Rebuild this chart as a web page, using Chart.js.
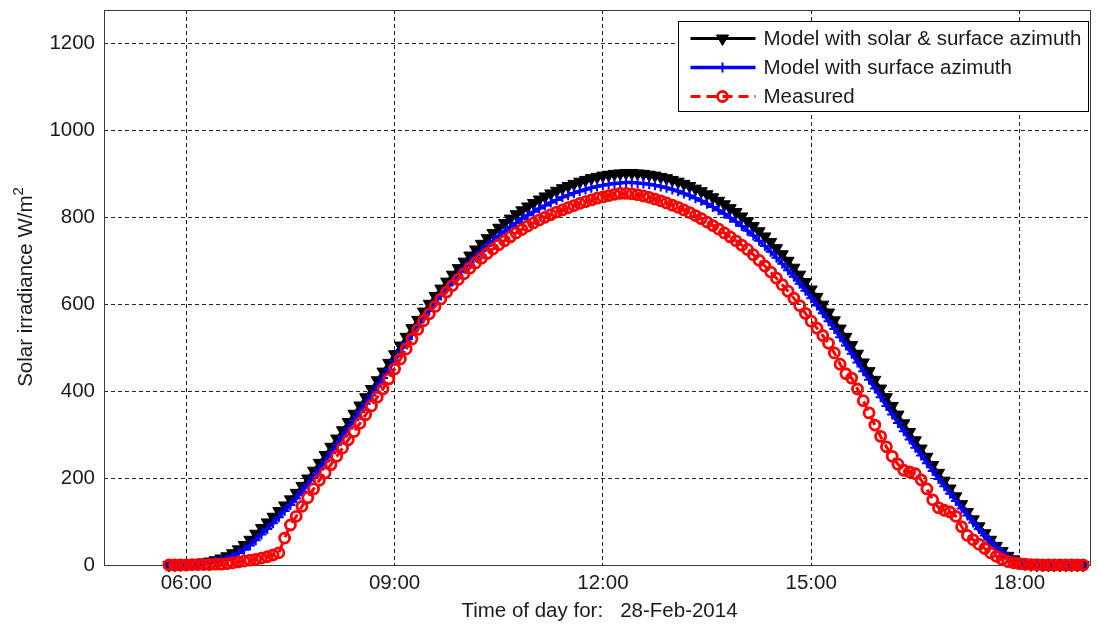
<!DOCTYPE html>
<html>
<head>
<meta charset="utf-8">
<title>Solar irradiance, 28-Feb-2014</title>
<script src="https://cdn.jsdelivr.net/npm/chart.js@4.4.1/dist/chart.umd.min.js"></script>
<style>
  html, body { margin: 0; padding: 0; background: #ffffff; }
  canvas { display: block; }
</style>
</head>
<body>
<canvas id="irradiance" width="1099" height="624"></canvas>
<script>
// Sample times (5-minute steps)
const times = [
  '05:45','05:50','05:55',
  '06:00','06:05','06:10','06:15','06:20','06:25','06:30','06:35','06:40','06:45','06:50','06:55',
  '07:00','07:05','07:10','07:15','07:20','07:25','07:30','07:35','07:40','07:45','07:50','07:55',
  '08:00','08:05','08:10','08:15','08:20','08:25','08:30','08:35','08:40','08:45','08:50','08:55',
  '09:00','09:05','09:10','09:15','09:20','09:25','09:30','09:35','09:40','09:45','09:50','09:55',
  '10:00','10:05','10:10','10:15','10:20','10:25','10:30','10:35','10:40','10:45','10:50','10:55',
  '11:00','11:05','11:10','11:15','11:20','11:25','11:30','11:35','11:40','11:45','11:50','11:55',
  '12:00','12:05','12:10','12:15','12:20','12:25','12:30','12:35','12:40','12:45','12:50','12:55',
  '13:00','13:05','13:10','13:15','13:20','13:25','13:30','13:35','13:40','13:45','13:50','13:55',
  '14:00','14:05','14:10','14:15','14:20','14:25','14:30','14:35','14:40','14:45','14:50','14:55',
  '15:00','15:05','15:10','15:15','15:20','15:25','15:30','15:35','15:40','15:45','15:50','15:55',
  '16:00','16:05','16:10','16:15','16:20','16:25','16:30','16:35','16:40','16:45','16:50','16:55',
  '17:00','17:05','17:10','17:15','17:20','17:25','17:30','17:35','17:40','17:45','17:50','17:55',
  '18:00','18:05','18:10','18:15','18:20','18:25','18:30','18:35','18:40','18:45','18:50','18:55'
];

// Irradiance in W/m^2
const modelSolarSurface = [
  0,0,1,
  2,3,4,6,8,11,15,20,27,36,46,58,
  72,85,98,111,124,137,151,166,182,199,217,235,
  253,272,291,310,329,348,367,386,405,425,445,465,
  485,505,525,545,564,583,601,619,636,652,668,683,
  698,712,726,739,752,764,776,787,797,807,816,825,
  833,841,848,855,861,867,872,877,882,886,890,893,
  896,898,900,901,902,902,901,900,898,896,893,890,
  886,882,877,872,866,860,853,846,838,830,821,812,
  802,791,780,768,756,743,729,715,700,684,668,651,
  634,617,599,581,563,544,525,506,486,466,446,426,
  406,386,366,346,326,306,287,268,249,230,212,194,
  176,158,140,122,105,89,73,58,44,32,21,13,
  7,3,1,0,0,0,0,0,0,0,0,0
];

const modelSurface = [
  0,0,0,
  1,2,3,4,6,8,11,15,20,27,35,45,
  57,70,83,96,110,124,138,153,169,185,202,220,
  238,257,276,295,314,333,352,371,390,410,430,450,
  470,490,510,529,548,567,585,603,620,636,652,667,
  682,696,709,722,734,746,757,768,778,787,796,805,
  813,820,827,834,840,846,851,856,860,864,868,871,
  874,876,878,879,880,880,879,878,876,874,871,868,
  864,860,855,850,844,838,831,824,816,808,799,790,
  780,769,758,746,734,721,707,693,678,663,647,631,
  614,597,579,561,543,524,505,486,466,446,426,406,
  386,366,346,327,308,289,270,252,234,216,198,181,
  164,147,130,114,98,83,68,54,41,29,19,11,
  5,2,0,0,0,0,0,0,0,0,0,0
];

const measured = [
  0,0,0,
  0,1,1,1,1,2,2,3,5,7,9,11,
  13,16,19,23,28,62,92,112,135,155,175,195,
  212,231,250,269,288,307,326,346,366,386,405,428,
  451,474,497,520,542,562,578,595,612,628,643,657,
  670,683,695,706,717,727,737,746,755,764,772,780,
  787,794,800,806,812,817,822,827,832,836,840,844,
  847,850,853,855,855,854,852,849,846,842,838,833,
  828,823,817,811,804,797,789,781,773,764,755,746,
  736,726,714,701,688,674,660,645,630,614,597,579,
  561,545,528,510,488,462,440,430,405,378,350,322,
  296,272,250,232,218,214,210,196,175,150,132,126,
  122,112,88,68,58,48,38,28,20,13,8,5,
  3,2,1,1,0,0,0,0,0,0,0,0
];

const seriesNames = ['Model with solar & surface azimuth', 'Model with surface azimuth', 'Measured'];
const xTickHours = [6, 9, 12, 15, 18];
const xTickLabels = ['06:00', '09:00', '12:00', '15:00', '18:00'];
const yTickValues = [0, 200, 400, 600, 800, 1000, 1200];
const xTitle = 'Time of day for:   28-Feb-2014';
const yTitle = 'Solar irradiance W/m';
const yTitleSup = '2';

const FONT_FAMILY = '"Liberation Sans", Arial, Helvetica, sans-serif';
const TEXT_COLOR = '#1a1a1a';

function toHours(t) {
  const [h, m] = t.split(':').map(Number);
  return h + m / 60;
}
function toPoints(values) {
  return values.map((v, i) => ({ x: toHours(times[i]), y: v }));
}

// Axes box, axis titles and an in-plot legend
const axesDecor = {
  id: 'axesDecor',
  beforeDatasetsDraw(chart) {
    const { ctx, chartArea: a } = chart;
    ctx.save();
    ctx.strokeStyle = '#3a3a3a';
    ctx.lineWidth = 1;
    ctx.setLineDash([]);
    ctx.strokeRect(Math.round(a.left) + 0.5, Math.round(a.top) + 0.5,
                   Math.round(a.right - a.left) - 1, Math.round(a.bottom - a.top));
    ctx.restore();
  },
  afterDraw(chart) {
    const { ctx, chartArea: a } = chart;
    ctx.save();
    ctx.fillStyle = TEXT_COLOR;

    // x title
    ctx.font = '20.5px ' + FONT_FAMILY;
    ctx.textAlign = 'center';
    ctx.textBaseline = 'alphabetic';
    ctx.fillText(xTitle, (a.left + a.right) / 2 + 2, 617);

    // y title with superscript
    ctx.save();
    ctx.translate(32, 287);
    ctx.rotate(-Math.PI / 2);
    ctx.font = '20.5px ' + FONT_FAMILY;
    const wMain = ctx.measureText(yTitle).width;
    ctx.font = '15px ' + FONT_FAMILY;
    const wSup = ctx.measureText(yTitleSup).width;
    const start = -(wMain + wSup) / 2;
    ctx.textAlign = 'left';
    ctx.font = '20.5px ' + FONT_FAMILY;
    ctx.fillText(yTitle, start, 0);
    ctx.font = '15px ' + FONT_FAMILY;
    ctx.fillText(yTitleSup, start + wMain, -9);
    ctx.restore();

    // legend
    const boxW = 410, boxH = 90;
    const bx = a.right - 3 - boxW + 0.5;
    const by = a.top + 11 + 0.5;
    ctx.fillStyle = '#ffffff';
    ctx.fillRect(bx, by, boxW, boxH);
    ctx.strokeStyle = '#000000';
    ctx.lineWidth = 1;
    ctx.setLineDash([]);
    ctx.strokeRect(bx, by, boxW, boxH);

    chart.data.datasets.forEach((ds, i) => {
      const cy = by + 17 + i * 29;
      const x0 = bx + 12, x1 = bx + 77, xm = bx + 44;
      ctx.save();
      ctx.strokeStyle = ds.borderColor;
      ctx.lineWidth = ds.borderWidth;
      ctx.setLineDash(ds.borderDash || []);
      ctx.beginPath();
      ctx.moveTo(x0, cy);
      ctx.lineTo(x1, cy);
      ctx.stroke();
      ctx.setLineDash([]);
      ctx.fillStyle = ds.pointBackgroundColor || 'rgba(0,0,0,0)';
      ctx.strokeStyle = ds.pointBorderColor;
      ctx.lineWidth = ds.pointBorderWidth;
      Chart.helpers.drawPoint(ctx, {
        pointStyle: ds.pointStyle,
        rotation: ds.pointRotation || 0,
        radius: ds.pointRadius,
        borderWidth: ds.pointBorderWidth
      }, xm, cy);
      ctx.restore();

      ctx.fillStyle = TEXT_COLOR;
      ctx.font = '20.5px ' + FONT_FAMILY;
      ctx.textAlign = 'left';
      ctx.textBaseline = 'middle';
      ctx.fillText(ds.label, bx + 85, cy + 1);
    });
    ctx.restore();
  }
};

function zeroPadding(scale) {
  scale.paddingTop = 0;
  scale.paddingBottom = 0;
  scale.paddingLeft = 0;
  scale.paddingRight = 0;
}

new Chart(document.getElementById('irradiance'), {
  type: 'line',
  data: {
    datasets: [
      {
        label: seriesNames[0],
        data: toPoints(modelSolarSurface),
        borderColor: '#000000',
        backgroundColor: '#000000',
        borderWidth: 3,
        pointStyle: 'triangle',
        pointRotation: 180,
        pointRadius: 7,
        pointBorderWidth: 1,
        pointBackgroundColor: '#000000',
        pointBorderColor: '#000000',
        tension: 0,
        order: 3,
        clip: false
      },
      {
        label: seriesNames[1],
        data: toPoints(modelSurface),
        borderColor: '#0000ff',
        backgroundColor: '#0000ff',
        borderWidth: 3.5,
        pointStyle: 'cross',
        pointRadius: 5,
        pointBorderWidth: 2,
        pointBackgroundColor: '#0000ff',
        pointBorderColor: '#0000ff',
        tension: 0,
        order: 2,
        clip: false
      },
      {
        label: seriesNames[2],
        data: toPoints(measured),
        borderColor: '#ff0000',
        backgroundColor: 'rgba(0,0,0,0)',
        borderWidth: 3,
        borderDash: [10, 6],
        pointStyle: 'circle',
        pointRadius: 5,
        pointBorderWidth: 2.8,
        pointBackgroundColor: 'rgba(0,0,0,0)',
        pointBorderColor: '#ff0000',
        tension: 0,
        order: 1,
        clip: false
      }
    ]
  },
  options: {
    responsive: false,
    animation: false,
    devicePixelRatio: 1,
    events: [],
    layout: { padding: { left: 0, right: 3, top: 10, bottom: 0 } },
    plugins: { legend: { display: false }, tooltip: { enabled: false } },
    scales: {
      x: {
        type: 'linear',
        min: 4.815,
        max: 19.03,
        afterBuildTicks: (s) => { s.ticks = xTickHours.map(v => ({ value: v })); },
        afterFit: (s) => { s.height = 59; zeroPadding(s); },
        ticks: {
          callback: (v) => xTickLabels[xTickHours.indexOf(v)],
          font: { family: FONT_FAMILY, size: 20.5 },
          color: TEXT_COLOR,
          padding: 6,
          maxRotation: 0,
          autoSkip: false
        },
        grid: { color: '#222222', lineWidth: 1, drawTicks: false, tickLength: 0 },
        border: { display: false, dash: [4, 3] }
      },
      y: {
        type: 'linear',
        min: 0,
        max: 1277,
        afterBuildTicks: (s) => { s.ticks = yTickValues.map(v => ({ value: v })); },
        afterFit: (s) => { s.width = 104; zeroPadding(s); },
        ticks: {
          callback: (v) => String(v),
          font: { family: FONT_FAMILY, size: 20.5 },
          color: TEXT_COLOR,
          padding: 9,
          autoSkip: false
        },
        grid: { color: '#222222', lineWidth: 1, drawTicks: false, tickLength: 0 },
        border: { display: false, dash: [4, 3] }
      }
    }
  },
  plugins: [axesDecor]
});
</script>
</body>
</html>
